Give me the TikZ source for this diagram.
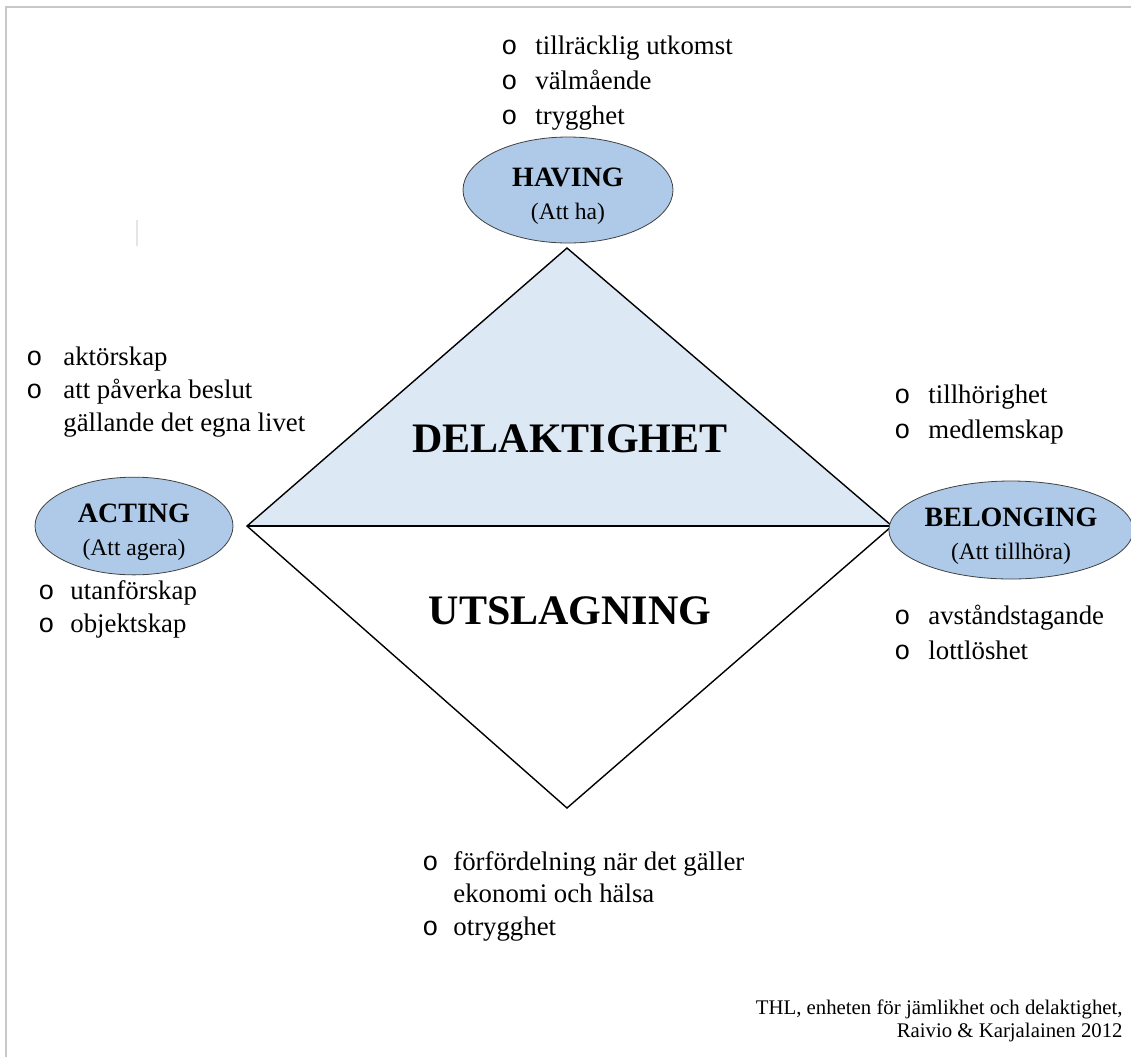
\documentclass[tikz,border=0pt]{standalone}
\usepackage{fontspec}
\setmainfont{Liberation Serif}
\newfontfamily\bulfont{Liberation Mono}
\usetikzlibrary{shapes.geometric}
\definecolor{ovalblue}{RGB}{174,202,232}
\definecolor{paleblue}{RGB}{221,232,245}
\definecolor{framegray}{RGB}{200,200,200}
\newcommand\bul[1][9pt]{\llap{{\bulfont o}\hspace{#1}}}
\tikzset{
  item/.style={anchor=base west,inner sep=0pt,font=\fontsize{13.4}{16}\selectfont},
  oval/.style={ellipse,draw=black!75,fill=ovalblue,inner sep=0pt,align=center,font=\fontsize{14}{16.5}\selectfont},
  big/.style={inner sep=0pt,font=\fontsize{21}{25}\selectfont\bfseries}
}
\begin{document}
\begin{tikzpicture}[x=0.5pt,y=-0.5pt]
\useasboundingbox (0,0) rectangle (1131,1057);
% frame
\draw[framegray,line width=0.7pt] (6,1057) -- (6,7) -- (1131,7);
\draw[black!10,line width=0.6pt] (137,220) -- (137,246);
% diamond
\coordinate (top) at (567,248);
\coordinate (lft) at (247,526);
\coordinate (rgt) at (892,526);
\coordinate (bot) at (567,808);
\fill[paleblue] (lft) -- (top) -- (rgt) -- cycle;
\draw[line width=0.7pt] (lft) -- (top) -- (rgt) -- (bot) -- cycle;
\draw[line width=1.2pt] (lft) -- (rgt);
\node[big] (del) at (570,439) {DELAKTIGHET};
\node[big] (uts) at (570,611) {UTSLAGNING};
% ovals
\node[oval,minimum width=105pt,minimum height=53pt] (having) at (568,190) {\rule{0pt}{15.5pt}\textbf{HAVING}\\{\fontsize{11.8}{14}\selectfont (Att ha)}};
\node[oval,minimum width=99pt,minimum height=48.5pt] (acting) at (134,526) {\rule{0pt}{15.5pt}\textbf{ACTING}\\{\fontsize{11.8}{14}\selectfont (Att agera)}};
\node[oval,minimum width=101.5pt,minimum height=49pt] (belonging) at (1011,530) {\rule{0pt}{15.5pt}\textbf{BELONGING}\\{\fontsize{11.8}{14}\selectfont (Att tillhöra)}};
% lists
\foreach \t [count=\i] in {tillräcklig utkomst,välmående,trygghet}
  \node[item] (have\i) at (535,19+35*\i) {\bul\t};
\node[item] (act1) at (63,365) {\bul[10.5pt]aktörskap};
\node[item] (act2) at (63,398) {\bul[10.5pt]att påverka beslut};
\node[item] (act3) at (63,431) {gällande det egna livet};
\node[item] (out1) at (70,599) {\bul[8pt]utanförskap};
\node[item] (out2) at (70,632) {\bul[8pt]objektskap};
\node[item] (bel1) at (928,403) {\bul tillhörighet};
\node[item] (bel2) at (928,438) {\bul medlemskap};
\node[item] (dis1) at (928,624) {\bul avståndstagande};
\node[item] (dis2) at (928,659) {\bul lottlöshet};
\node[item] (unf1) at (453,870) {\bul[7.5pt]förfördelning när det gäller};
\node[item] (unf2) at (453,902) {ekonomi och hälsa};
\node[item] (unf3) at (453,935) {\bul[7.5pt]otrygghet};
% source
\node[anchor=south east,inner sep=0pt,align=right,font=\fontsize{10.4}{11.5}\selectfont] (src) at (1123,1042)
  {THL, enheten för jämlikhet och delaktighet,\\Raivio \& Karjalainen 2012};
\end{tikzpicture}
\end{document}
